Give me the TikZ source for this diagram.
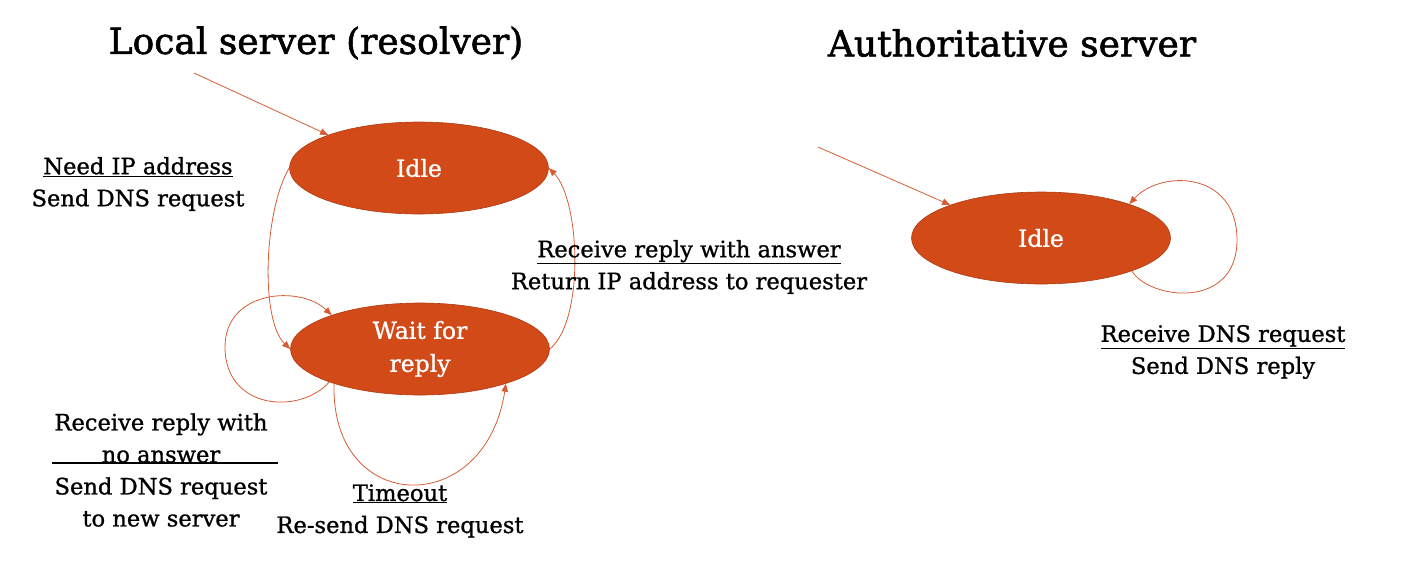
\documentclass[tikz,border=0pt]{standalone}
\usepackage{fontspec}
\setmainfont{DejaVu Serif}[FakeBold=1.0]
\newfontfamily\ttlfont{DejaVu Serif}[FakeBold=1.6]
\usetikzlibrary{arrows.meta,shapes.geometric}
\definecolor{stfill}{RGB}{209,74,24}
\definecolor{stline}{RGB}{175,60,20}
\definecolor{arr}{RGB}{214,92,52}
\newcommand{\ul}[1]{\setlength{\fboxsep}{0pt}\underline{#1}}
\tikzset{
  state/.style={ellipse, fill=stfill, draw=stline, line width=0.6pt, minimum width=259pt, minimum height=92pt, inner sep=0pt, text=white, font=\fontsize{23.5}{33}\selectfont, align=center},
  conn/.style={draw=arr, line width=0.8pt, -{Triangle[length=8pt,width=6.5pt]}},
  lbl/.style={font=\fontsize{22.6}{32}\selectfont, align=center, text=black},
  ttl/.style={font=\ttlfont\fontsize{36}{40}\selectfont, text=black}
}
\begin{document}
\begin{tikzpicture}[x=1pt,y=-1pt]
\useasboundingbox (0,0) rectangle (1410,582);
\node[ttl] (t1) at (316,43) {Local server (resolver)};
\node[ttl] (t2) at (1012,43) {Authoritative server};

\node[state] (idle) at (419,168) {Idle};
\node[state] (wait) at (420,349) {Wait for\\reply};
\node[state] (auth) at (1041,238) {Idle};

\coordinate (s1) at (194,73);
\coordinate (s2) at (818,147);
\draw[conn] (s1) -- (idle.160);
\draw[conn] (s2) -- (auth.160);

\draw[conn] (idle.west) .. controls (264,210) and (260,320) .. (wait.west);
\draw[conn] (wait.east) .. controls (585,320) and (580,200) .. (idle.east);
\draw[conn] (wait.200) .. controls (300,415) and (225,410) .. (225,347) .. controls (225,290) and (300,285) .. (wait.159);
\draw[conn] (wait.202) .. controls (330,515) and (485,520) .. (wait.338);
\draw[conn] (auth.340) .. controls (1150,300) and (1237,310) .. (1237,240) .. controls (1237,170) and (1160,170) .. (auth.21);

\node[lbl] (l1) at (138,184) {\ul{Need IP address}\\Send DNS request};
\node[lbl] (l2) at (689,267) {\ul{Receive reply with answer}\\Return IP address to requester};
\node[lbl] (l3) at (161,470) {Receive reply with\\no answer\\Send DNS request\\to new server};
\draw[black, line width=1.2pt] (52,463) -- (278,463);
\node[lbl] (l4) at (400,511) {\ul{Timeout}\\Re-send DNS request};
\node[lbl] (l5) at (1223,352) {\ul{Receive DNS request}\\Send DNS reply};
\end{tikzpicture}
\end{document}
